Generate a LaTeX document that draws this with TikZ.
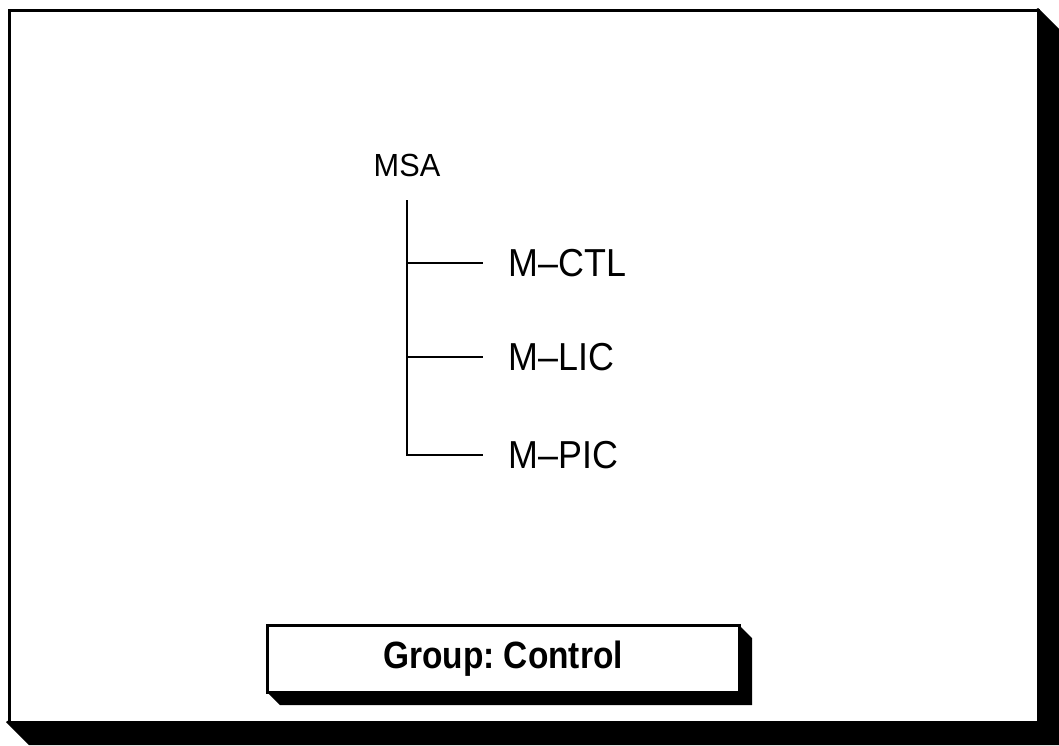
\documentclass[tikz,border=0pt]{standalone}
\usepackage{fontspec}
\setmainfont{Liberation Sans}
\newfontfamily\treefont[FakeStretch=0.92]{Liberation Sans}
\newfontfamily\rootfont[FakeStretch=0.96]{Liberation Sans}
\newfontfamily\groupfont[FakeStretch=0.88]{Liberation Sans}
\usetikzlibrary{positioning}

\newlength{\du}
\setlength{\du}{1pt}

\tikzset{
  rootlabel/.style={inner sep=0pt,font=\rootfont\fontsize{32}{35}\selectfont},
  leaflabel/.style={anchor=west,inner sep=0pt,font=\treefont\fontsize{39}{42}\selectfont},
  groupbox/.style={draw,fill=white,line width=3\du,inner sep=0pt,
    minimum width=472\du,minimum height=67\du,
    font=\groupfont\bfseries\fontsize{38}{41}\selectfont},
  branch/.style={line width=2.5\du,line join=miter},
}

\begin{document}
\begin{tikzpicture}
\pgftransformxscale{1.000000}
\pgftransformyscale{-1.000000}
\useasboundingbox (0\du,0\du) rectangle (1059\du,745\du);
\definecolor{dialinecolor}{rgb}{0.000000, 0.000000, 0.000000}
\pgfsetstrokecolor{dialinecolor}
\pgfsetfillcolor{dialinecolor}
% outer frame shadow
\fill (1038\du,8\du)--(1059\du,29\du)--(1059\du,745\du)--(29\du,745\du)--(6\du,722\du)--cycle;
% outer frame
\pgfsetlinewidth{3\du}
\pgfsetmiterjoin
\draw[fill=white] (9\du,10\du) rectangle (1038\du,722\du);
% tree
\node[rootlabel] (msa) at (407\du,165\du) {MSA};
\coordinate (trunk) at (407\du,200\du);
\node[leaflabel] (ctl) at (507\du,263\du) {M–CTL};
\node[leaflabel] (lic) at (507\du,357\du) {M–LIC};
\node[leaflabel] (pic) at (507\du,455\du) {M–PIC};
\draw[branch] (trunk) |- ([xshift=-24\du]ctl.west);
\draw[branch] (trunk) |- ([xshift=-24\du]lic.west);
\draw[branch] (trunk) |- ([xshift=-24\du]pic.west);
% group box shadow
\fill (739\du,625\du)--(752\du,638\du)--(752\du,705\du)--(280\du,705\du)--(267\du,692\du)--cycle;
\node[groupbox] (group) at (503\du,658.5\du) {Group:\ Control};
\end{tikzpicture}
\end{document}
